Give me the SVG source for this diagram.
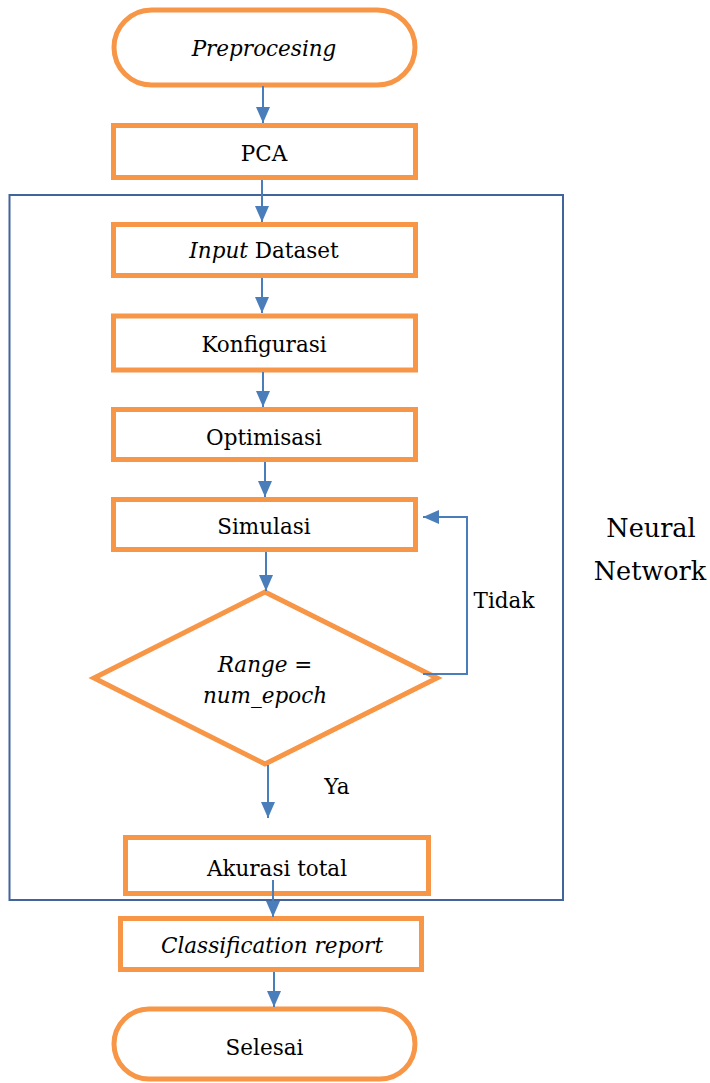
<svg xmlns="http://www.w3.org/2000/svg" width="710" height="1083" viewBox="0 0 710 1083">
<style>
.n{fill:#fff;stroke:#f79646;stroke-width:5}
.t{font-family:"DejaVu Serif","Liberation Serif",serif;font-size:21.5px;fill:#000;text-anchor:middle}
.i{font-style:italic}
.b{font-size:25.5px}
.c{fill:none;stroke:#4a7ebb;stroke-width:2}
</style>
<defs>
<marker id="ah" markerUnits="userSpaceOnUse" markerWidth="16" markerHeight="14" refX="16" refY="7" orient="auto">
<path d="M0,0 L16,7 L0,14 z" fill="#4a7ebb"/>
</marker>
</defs>
<rect x="9.5" y="195" width="553.5" height="705" fill="none" stroke="#41649b" stroke-width="2"/>
<g id="preprocesing"><rect class="n" x="114" y="10" width="301" height="75" rx="37.5"/><text class="t i" x="264" y="56">Preprocesing</text></g>
<g id="pca"><rect class="n" x="113.5" y="125.5" width="302" height="52"/><text class="t" x="264" y="161">PCA</text></g>
<g id="input"><rect class="n" x="113.5" y="224.5" width="302" height="51"/><text class="t" x="264" y="258"><tspan class="i">Input</tspan> Dataset</text></g>
<g id="konfigurasi"><rect class="n" x="113.5" y="316" width="302" height="54"/><text class="t" x="264" y="352">Konfigurasi</text></g>
<g id="optimisasi"><rect class="n" x="113.5" y="409.5" width="302" height="50"/><text class="t" x="264" y="445">Optimisasi</text></g>
<g id="simulasi"><rect class="n" x="113.5" y="499.5" width="302" height="50"/><text class="t" x="264" y="534">Simulasi</text></g>
<g id="decision"><polygon class="n" points="265,592 437,678 265,764 94,678"/><text class="t i" x="265" y="672">Range =</text><text class="t i" x="265" y="703">num_epoch</text></g>
<g id="akurasi"><rect class="n" x="125.5" y="837.5" width="303" height="56"/><text class="t" x="277" y="876">Akurasi total</text></g>
<g id="classification"><rect class="n" x="120.5" y="918.5" width="301" height="51"/><text class="t i" x="272" y="953">Classification report</text></g>
<g id="selesai"><rect class="n" x="114" y="1009" width="301" height="70" rx="35"/><text class="t" x="264.5" y="1055">Selesai</text></g>
<g id="labels">
<text class="t" x="504" y="608">Tidak</text>
<text class="t" x="337" y="794">Ya</text>
<text class="t b" x="651" y="537">Neural</text>
<text class="t b" x="650" y="580">Network</text>
</g>
<g id="connectors">
<path class="c" d="M263,86 V123" marker-end="url(#ah)"/>
<path class="c" d="M262,180 V222" marker-end="url(#ah)"/>
<path class="c" d="M262,278 V313" marker-end="url(#ah)"/>
<path class="c" d="M263,372 V407" marker-end="url(#ah)"/>
<path class="c" d="M265,462 V497" marker-end="url(#ah)"/>
<path class="c" d="M266,552 V591" marker-end="url(#ah)"/>
<path class="c" d="M268,765 V818" marker-end="url(#ah)"/>
<path class="c" d="M273,880 V917" marker-end="url(#ah)"/>
<path class="c" d="M274,972 V1007" marker-end="url(#ah)"/>
<path class="c" d="M423,674 H467 V517 H423" marker-end="url(#ah)"/>
</g>
</svg>
